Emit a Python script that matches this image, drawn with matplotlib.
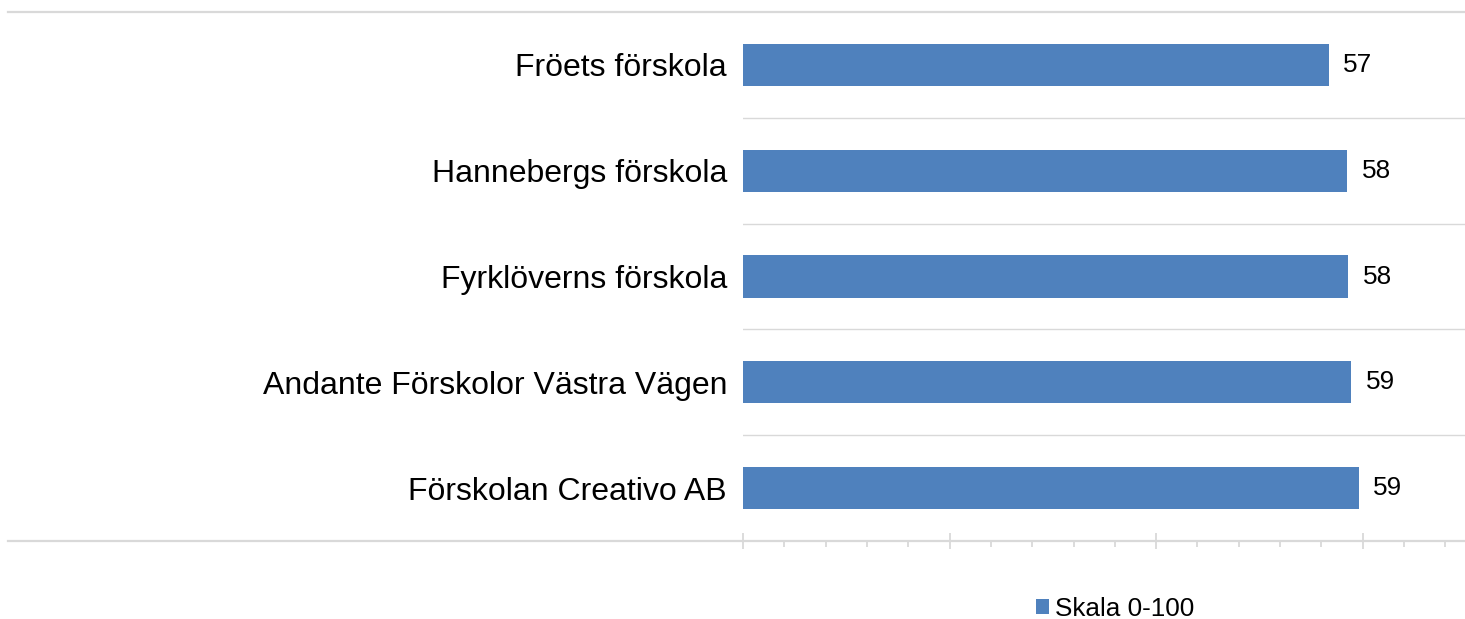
import matplotlib
matplotlib.use("Agg")
import matplotlib.pyplot as plt
from matplotlib.lines import Line2D
from matplotlib.ticker import MultipleLocator

plt.rcParams['font.family'] = ['Liberation Sans', 'DejaVu Sans']

# data
schools = ['Fröets förskola', 'Hannebergs förskola', 'Fyrklöverns förskola',
           'Andante Förskolor Västra Vägen', 'Förskolan Creativo AB']
values = [56.7, 58.5, 58.6, 58.9, 59.6]
value_labels = ['57', '58', '58', '59', '59']
series_name = 'Skala 0-100'

BLUE = '#4F81BD'
GRID = '#D9D9D9'

W, H = 1465, 619
fig = plt.figure(figsize=(W / 100, H / 100), dpi=100)

# axes area in pixels: x 743..1465, y 12..541
ax = fig.add_axes([743 / W, (H - 541) / H, (W - 743) / W, (541 - 12) / H])

ypos = list(range(len(schools)))
bars = ax.barh(ypos, values, height=0.4, color=BLUE, label=series_name, zorder=3)

ax.set_ylim(len(schools) - 0.5, -0.5)
ax.set_xlim(0, 69.9)

# gridlines between categories
for b in range(1, len(schools)):
    ax.axhline(b - 0.5, color=GRID, linewidth=1, zorder=1)

for rect, lab in zip(bars, value_labels):
    ax.text(rect.get_width() + 1.4, rect.get_y() + rect.get_height() / 2, lab,
            va='center', ha='left', fontsize=18.8, color='black')

ax.set_yticks(ypos)
ax.set_yticklabels(schools, fontsize=23)
ax.tick_params(axis='y', length=0, pad=11.5)

ax.xaxis.set_major_locator(MultipleLocator(20))
ax.xaxis.set_minor_locator(MultipleLocator(4))
ax.tick_params(axis='x', which='major', direction='inout', length=11, width=1.3,
               color=GRID, labelbottom=False)
ax.tick_params(axis='x', which='minor', direction='out', length=4.5, width=1.3,
               color=GRID)

for s in ax.spines.values():
    s.set_visible(False)

# top border and bottom axis line across the full width
for y in (12, 541):
    fig.add_artist(Line2D([8 / W, 1.0], [(H - y) / H] * 2, color=GRID,
                          linewidth=1.6, transform=fig.transFigure))

fig.legend(handles=[bars], labels=[series_name], loc='center',
           bbox_to_anchor=(1115 / W, (H - 609) / H), frameon=False,
           fontsize=18.8, handlelength=0.5, handleheight=0.5,
           handletextpad=0.2, borderpad=0)

fig.savefig('out.png', dpi=100)
